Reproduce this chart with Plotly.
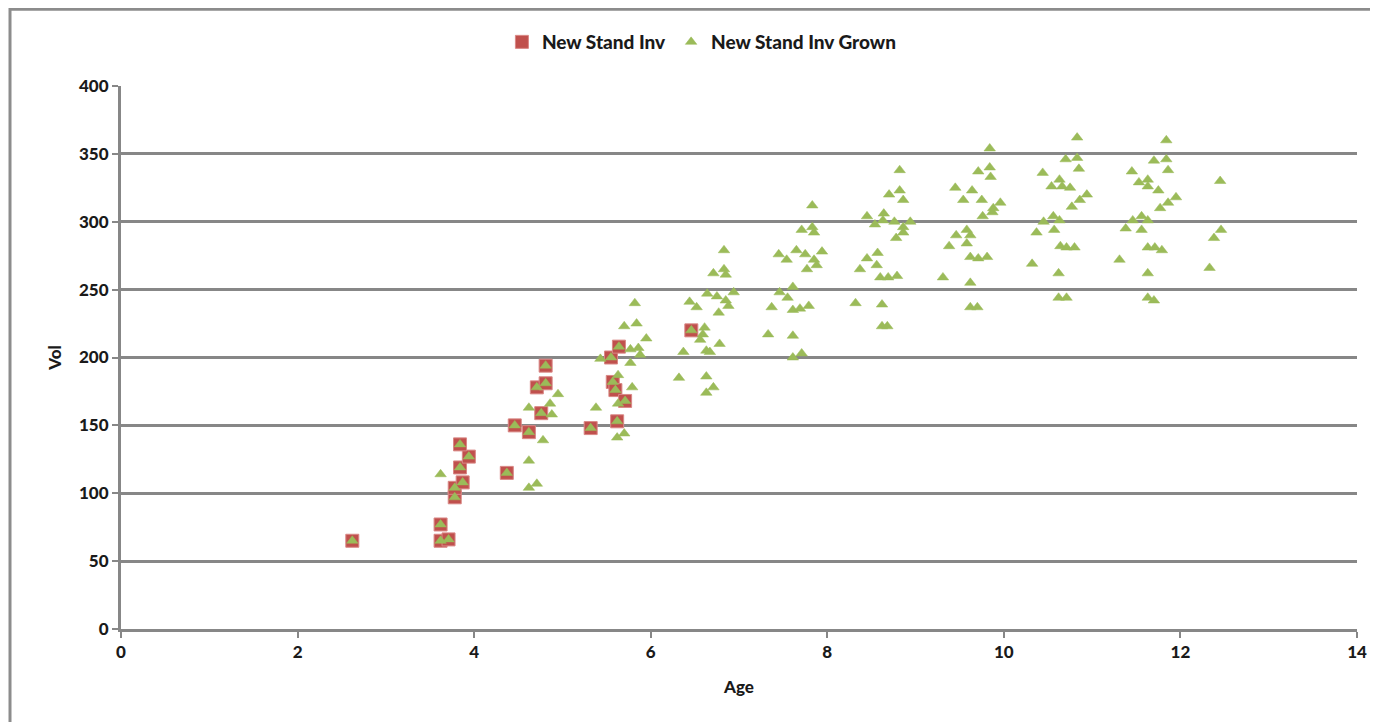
import plotly.graph_objects as go

# New Stand Inv (red squares)
inv_age = [2.62, 3.62, 3.62, 3.71, 3.78, 3.78, 3.87, 3.84, 3.94, 3.84, 4.37, 4.46, 4.62,
           4.71, 4.76, 4.81, 4.81, 5.32, 5.55, 5.64, 5.57, 5.60, 5.71, 5.62, 6.46]
inv_vol = [65, 77, 65, 66, 97, 104, 108, 119, 127, 136, 115, 150, 145,
           178, 159, 181, 194, 148, 200, 208, 182, 176, 168, 153, 220]

# New Stand Inv Grown (green triangles)
grown_age = inv_age + [
    3.62, 4.62, 4.62, 4.71, 4.78, 4.88, 4.86, 4.62, 4.95, 5.38, 5.43, 5.70, 5.84, 5.95,
    5.77, 5.86, 5.88, 5.77, 5.63, 5.79, 5.63, 5.62, 5.70, 5.82,
    6.32, 6.37, 6.61, 6.59, 6.56, 6.44, 6.52, 6.64, 6.75, 6.85, 6.88, 6.77, 6.94, 6.71,
    6.83, 6.85, 6.83, 6.63, 6.67, 6.78, 6.63, 6.71, 6.63,
    7.33, 7.61, 7.61, 7.71, 7.37, 7.46, 7.61, 7.55, 7.61, 7.69, 7.79, 7.45, 7.54, 7.65,
    7.75, 7.77, 7.85, 7.88, 7.94, 7.71, 7.83, 7.85, 7.83,
    8.32, 8.62, 8.62, 8.68, 8.37, 8.45, 8.57, 8.56, 8.60, 8.69, 8.79, 8.45, 8.54, 8.64,
    8.63, 8.76, 8.86, 8.86, 8.78, 8.94, 8.70, 8.82, 8.86, 8.82,
    9.31, 9.62, 9.62, 9.70, 9.38, 9.46, 9.58, 9.62, 9.58, 9.62, 9.71, 9.81, 9.45, 9.54,
    9.64, 9.75, 9.88, 9.87, 9.76, 9.96, 9.71, 9.84, 9.85, 9.84,
    10.32, 10.62, 10.62, 10.71, 10.37, 10.45, 10.56, 10.63, 10.57, 10.64, 10.71, 10.80,
    10.44, 10.54, 10.63, 10.66, 10.75, 10.77, 10.86, 10.94, 10.70, 10.83, 10.85, 10.83,
    11.31, 11.63, 11.63, 11.70, 11.38, 11.46, 11.56, 11.63, 11.56, 11.63, 11.71, 11.79,
    11.45, 11.53, 11.63, 11.63, 11.75, 11.77, 11.86, 11.95, 11.70, 11.84, 11.86, 11.84,
    12.33, 12.38, 12.46, 12.45]
grown_vol = inv_vol + [
    114, 124, 104, 107, 139, 158, 166, 163, 173, 163, 199, 223, 225, 214,
    206, 207, 202, 196, 187, 178, 166, 141, 144, 240,
    185, 204, 222, 217, 213, 241, 237, 247, 245, 242, 238, 233, 248, 262,
    265, 261, 279, 205, 204, 210, 186, 178, 174,
    217, 216, 200, 203, 237, 248, 252, 244, 235, 236, 238, 276, 272, 279,
    276, 265, 272, 268, 278, 294, 296, 292, 312,
    240, 239, 223, 223, 265, 273, 277, 268, 259, 259, 260, 304, 298, 306,
    301, 300, 296, 292, 288, 300, 320, 323, 316, 338,
    259, 255, 237, 237, 282, 290, 294, 290, 284, 274, 273, 274, 325, 316,
    323, 316, 310, 307, 304, 314, 337, 340, 333, 354,
    269, 262, 244, 244, 292, 300, 304, 301, 294, 282, 281, 281,
    336, 326, 331, 326, 325, 311, 316, 320, 346, 347, 339, 362,
    272, 262, 244, 242, 295, 301, 304, 301, 294, 281, 281, 279,
    337, 329, 331, 326, 323, 310, 314, 318, 345, 346, 338, 360,
    266, 288, 294, 330]

x_ticks = [0, 2, 4, 6, 8, 10, 12, 14]
y_ticks = [0, 50, 100, 150, 200, 250, 300, 350, 400]

FONT = "Lato"
GRID = "#878787"
TXT = dict(family=FONT, size=17, color="#1a1a1a", weight=900)

fig = go.Figure()
fig.add_trace(go.Scatter(
    x=inv_age, y=inv_vol, mode="markers", name="New Stand Inv",
    marker=dict(symbol="square", size=13, color="#C0504D",
                line=dict(color="#D98886", width=1)),
))
fig.add_trace(go.Scatter(
    x=grown_age, y=grown_vol, mode="markers", name="New Stand Inv Grown",
    marker=dict(symbol="triangle-up", size=10, color="#9BBB59",
                line=dict(color="#9BBB59", width=0.5)),
))

fig.update_layout(
    width=1378, height=722,
    margin=dict(l=113, r=29, t=78, b=101),
    paper_bgcolor="white", plot_bgcolor="white",
    font=TXT,
    showlegend=True,
    legend=dict(orientation="h", x=0.47, xanchor="center", y=1.081, yanchor="middle",
                font=dict(family=FONT, size=19, color="#1a1a1a", weight=900), itemwidth=30,
                bgcolor="rgba(0,0,0,0)"),
    xaxis=dict(range=[0, 14], tickvals=x_ticks, ticktext=[str(v) for v in x_ticks],
               showgrid=False, zeroline=False, showline=True, linecolor=GRID, linewidth=3,
               ticks="outside", ticklen=6, tickwidth=2, tickcolor=GRID,
               title=dict(text="Age", font=TXT, standoff=20),
               tickfont=TXT),
    yaxis=dict(range=[0, 400], tickvals=y_ticks, ticktext=[str(v) for v in y_ticks],
               showgrid=True, gridcolor=GRID, gridwidth=2.5, zeroline=False,
               showline=True, linecolor=GRID, linewidth=3,
               ticks="outside", ticklen=6, tickwidth=2, tickcolor=GRID,
               title=dict(text="Vol", font=TXT, standoff=14),
               tickfont=TXT),
    shapes=[dict(type="rect", xref="paper", yref="paper",
                 x0=-0.0898, x1=1.2, y0=-0.3, y1=1.1415,
                 line=dict(color="#8c8c8c", width=3), fillcolor="rgba(0,0,0,0)", layer="below")],
)

fig.write_html("out.html")
